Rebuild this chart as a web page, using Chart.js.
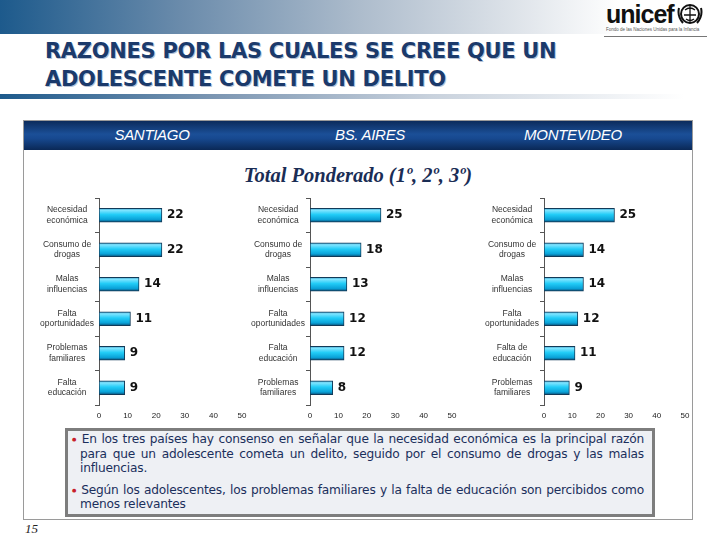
<!DOCTYPE html>
<html><head><meta charset="utf-8">
<script src="https://cdn.jsdelivr.net/npm/chart.js@4"></script>
<style>
html,body{margin:0;padding:0;width:720px;height:540px;background:#fff;overflow:hidden;position:relative;font-family:'Liberation Sans',Arial,sans-serif;}
.abs{position:absolute;}
#hdr{left:0;top:0;width:720px;height:34px;background:linear-gradient(to right,#1d5a8c 0%,#6a8bab 25%,#adbccc 50%,#dfe4ea 72%,#ffffff 86%);}
#bar2{left:0;top:94px;width:720px;height:5px;background:linear-gradient(to right,#1d5a8c 0%,#7d97b3 30%,#c9d2dd 60%,#ffffff 95%);}
#title{left:45px;top:37px;font-family:'DejaVu Sans',sans-serif;font-weight:bold;font-size:21px;line-height:28px;color:#1b3a6b;text-shadow:1px 1px 0 #b7c3d6;letter-spacing:-0.3px;}
#logoTxt{left:606px;top:0px;font-family:'Liberation Sans',Arial,sans-serif;font-weight:bold;font-size:25px;color:#111;letter-spacing:-1px;}
#logoSmall{left:606px;top:27px;font-size:4.5px;color:#555;white-space:nowrap;}
#logoLine{left:604px;top:36px;width:103px;height:1px;background:#777;}
#panel{left:23px;top:120px;width:670px;height:400px;border:1px solid #9a9a9a;box-sizing:border-box;}
#band{left:24px;top:121px;width:668px;height:29px;background:linear-gradient(to bottom,#0b2b5c 0%,#1b4f97 45%,#174990 60%,#0a2856 100%);}
.city{top:126px;color:#fff;font-family:'Liberation Sans',Arial,sans-serif;font-style:italic;font-size:15px;transform:translateX(-50%);white-space:nowrap;letter-spacing:-0.3px;}
#sub{left:358px;top:164px;transform:translateX(-50%);font-family:'Liberation Serif','Times New Roman',serif;font-style:italic;font-weight:bold;font-size:20.5px;color:#1a2d55;white-space:nowrap;}
#box{left:65px;top:428px;width:590px;height:89px;border:3px solid #7d7d7d;box-sizing:border-box;background:#eef0f4;}
#boxtxt{left:72px;top:432px;width:572px;font-family:'DejaVu Sans',sans-serif;font-size:12.2px;line-height:14.5px;color:#1b2f5c;text-align:justify;letter-spacing:-0.2px;}
#boxtxt p{margin:0 0 7px 0;padding-left:8px;text-indent:-8px;}
#boxtxt .b{color:#c8202a;font-size:5px;vertical-align:2px;}
#pg{left:25px;top:521px;font-family:'Liberation Serif',serif;font-style:italic;font-size:13px;color:#222;}
canvas{position:absolute;}
</style></head>
<body>
<div id="hdr" class="abs"></div>
<div id="logoTxt" class="abs">unicef</div>
<svg class="abs" style="left:676px;top:2px" width="28" height="26" viewBox="0 0 28 26">
<circle cx="14" cy="12" r="9" fill="none" stroke="#111" stroke-width="2"/>
<path d="M9 8 Q14 4 19 8 M8 13 L20 13 M10 17 Q14 20 18 17 M14 3 L14 21" stroke="#111" stroke-width="1.3" fill="none"/>
<path d="M3 6 Q1 14 7 21 M25 6 Q27 14 21 21" stroke="#111" stroke-width="2" fill="none"/>
</svg>
<div id="logoSmall" class="abs">Fondo de las Naciones Unidas para la Infancia</div>
<div id="logoLine" class="abs"></div>
<div id="title" class="abs">RAZONES POR LAS CUALES SE CREE QUE UN<br>ADOLESCENTE COMETE UN DELITO</div>
<div id="bar2" class="abs"></div>
<div id="panel" class="abs"></div>
<div id="band" class="abs"></div>
<div class="abs city" style="left:152px">SANTIAGO</div>
<div class="abs city" style="left:370px">BS. AIRES</div>
<div class="abs city" style="left:573px">MONTEVIDEO</div>
<div id="sub" class="abs">Total Ponderado (1º, 2º, 3º)</div>
<canvas id="c1" width="229" height="239" style="left:25px;top:186px"></canvas>
<canvas id="c2" width="228" height="239" style="left:236px;top:186px"></canvas>
<canvas id="c3" width="227" height="239" style="left:470px;top:186px"></canvas>
<div id="box" class="abs"></div>
<div id="boxtxt" class="abs">
<p><span class="b">&#9679;</span> En los tres países hay consenso en señalar que la necesidad económica es la principal razón para que un adolescente cometa un delito, seguido por el consumo de drogas y las malas influencias.</p>
<p><span class="b">&#9679;</span> Según los adolescentes, los problemas familiares y la falta de educación son percibidos como menos relevantes</p>
</div>
<div id="pg" class="abs">15</div>
<script>
const cities = ['SANTIAGO', 'BS. AIRES', 'MONTEVIDEO'];
const labelsSantiago = [['Necesidad','económica'],['Consumo de','drogas'],['Malas','influencias'],['Falta','oportunidades'],['Problemas','familiares'],['Falta','educación']];
const valuesSantiago = [22, 22, 14, 11, 9, 9];
const labelsBsAires = [['Necesidad','económica'],['Consumo de','drogas'],['Malas','influencias'],['Falta','oportunidades'],['Falta','educación'],['Problemas','familiares']];
const valuesBsAires = [25, 18, 13, 12, 12, 8];
const labelsMontevideo = [['Necesidad','económica'],['Consumo de','drogas'],['Malas','influencias'],['Falta','oportunidades'],['Falta de','educación'],['Problemas','familiares']];
const valuesMontevideo = [25, 14, 14, 12, 11, 9];
const xTicks = [0, 10, 20, 30, 40, 50];

const valueLabels = {
  id: 'valueLabels',
  afterDatasetsDraw(chart) {
    const ctx = chart.ctx;
    const meta = chart.getDatasetMeta(0);
    const data = chart.data.datasets[0].data;
    ctx.save();
    ctx.font = 'bold 12px "DejaVu Sans", sans-serif';
    ctx.fillStyle = '#111';
    ctx.textAlign = 'left';
    ctx.textBaseline = 'middle';
    meta.data.forEach((bar, i) => {
      ctx.fillText(String(data[i]), bar.x + 5, bar.y);
    });
    ctx.restore();
  }
};

function barFill(c) {
  const chart = c.chart;
  const ys = chart.scales && chart.scales.y;
  if (c.type !== 'data' || !ys || !chart.chartArea) return '#1fc3f0';
  const py = ys.getPixelForValue(c.dataIndex);
  const h = 7;
  const g = chart.ctx.createLinearGradient(0, py - h, 0, py + h);
  g.addColorStop(0, '#3a9cc8');
  g.addColorStop(0.15, '#7fe4ff');
  g.addColorStop(0.45, '#22ccf7');
  g.addColorStop(0.8, '#0aa2d8');
  g.addColorStop(1, '#0b4c74');
  return g;
}

function makeChart(id, labels, values) {
  return new Chart(document.getElementById(id), {
    type: 'bar',
    data: {
      labels: labels,
      datasets: [{
        data: values,
        backgroundColor: barFill,
        borderColor: '#123a58',
        borderWidth: 1,
        borderSkipped: false,
        barThickness: 14
      }]
    },
    plugins: [valueLabels],
    options: {
      indexAxis: 'y',
      responsive: false,
      animation: false,
      events: [],
      layout: { padding: { top: 12, right: 12, left: 0, bottom: 0 } },
      plugins: { legend: { display: false }, tooltip: { enabled: false } },
      scales: {
        x: {
          min: 0, max: 50,
          afterBuildTicks: (s) => { s.ticks = xTicks.map(v => ({ value: v })); },
          afterFit: (s) => { s.height = 20; },
          grid: { display: false, drawTicks: false },
          border: { display: false },
          ticks: { padding: 6, color: '#222', font: { family: 'Liberation Sans', size: 8 } }
        },
        y: {
          afterFit: (s) => { s.width = 74; },
          grid: { drawOnChartArea: false, tickLength: 4, color: '#555', offset: true },
          border: { display: true, color: '#555', width: 1 },
          ticks: { padding: 1, crossAlign: 'center', color: '#333', font: { family: 'Liberation Sans', size: 8.5, lineHeight: 1.25 } }
        }
      }
    }
  });
}

makeChart('c1', labelsSantiago, valuesSantiago);
makeChart('c2', labelsBsAires, valuesBsAires);
makeChart('c3', labelsMontevideo, valuesMontevideo);
</script>
</body></html>
